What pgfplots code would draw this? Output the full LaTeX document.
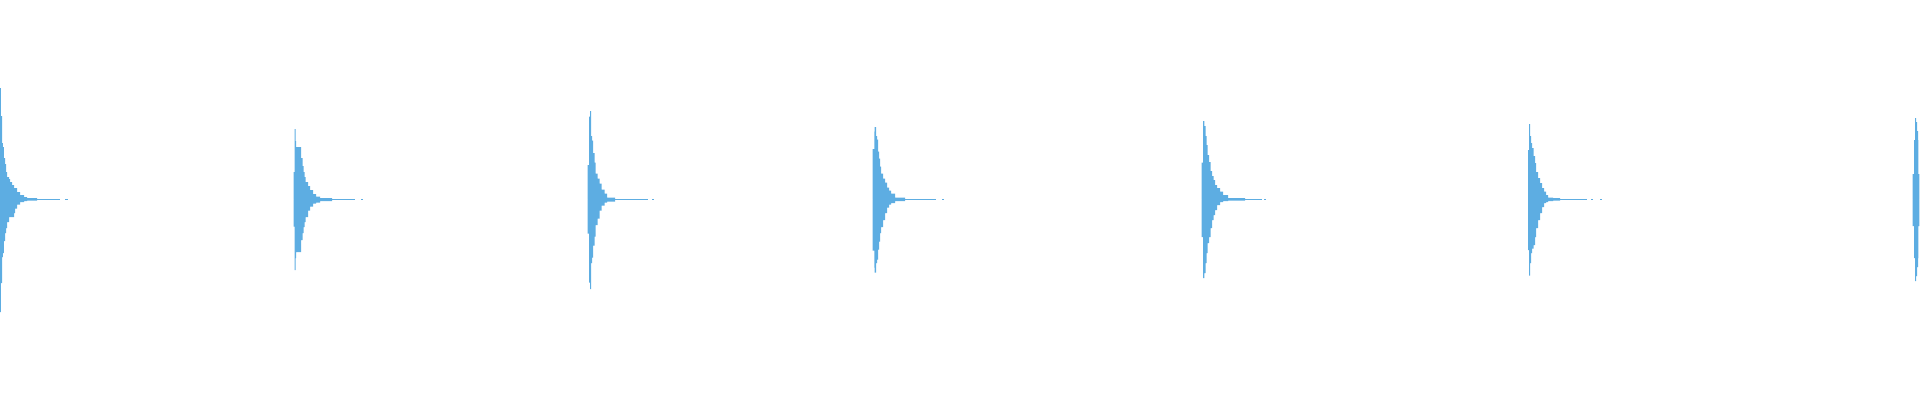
\documentclass[border=0pt]{standalone}
\usepackage{pgfplots}
\usepackage{pgfplotstable}
\pgfplotsset{compat=1.18}
\definecolor{wave}{RGB}{93,173,226}

% envelope of each burst: value holds from x to the next x
\pgfplotstableread{
x up lo
0 111.5 -112.5
1 83.5 -83.5
2 56.5 -57.5
3 52.5 -53.5
4 41.5 -41.5
5 35.5 -33.5
6 27.5 -28.5
7 22.5 -22.5
9 20.5 -17.5
10 17.5 -17.5
12 14.5 -17.5
14 11.5 -13.5
15 11.5 -9
17 7.5 -5
20 4.5 -2.5
24 2.5 -1.5
27 1.5 -1
37 0 0
}\burstA

\pgfplotstableread{
x up lo
293.7 27.5 -27
294.7 70.5 -70.5
295.7 58.5 -58.5
296 52.5 -52.5
301 41.5 -40.5
302.5 33.5 -33.5
303.5 27.5 -27.5
304.5 22.5 -22.5
305.5 17.5 -17.5
308 13.5 -11
310 9.5 -7
313 5.5 -4
316 3 -3
320 1.5 -1.5
332 0 0
}\burstB

\pgfplotstableread{
x up lo
587.7 34.5 -34
589 83 -83
590 88.5 -89.5
591 63.5 -63.5
592 59 -58
593 46.5 -46
594.5 37 -37
595.5 26 -25.5
597.5 21 -19
599.5 16 -11
601.5 10 -6
604.5 6 -3
607 2 -2
615 0 0
}\burstC

\pgfplotstableread{
x up lo
872.7 50.5 -51
874.3 68 -68
874.7 72.5 -73
876 63.5 -63.5
877 60 -60
878 48 -50
879 41 -42
880 33 -33.5
881 26 -27.5
883 21 -20.5
885 17 -13.5
887 12 -8
889 9 -5
891 6 -3.5
895 2 -1.5
905 0 0
}\burstD

\pgfplotstableread{
x up lo
1201.7 37 -37.5
1203 78.5 -78.5
1204.3 73.5 -73.5
1205.7 63.5 -63.5
1206.7 54.5 -53.5
1207.7 44.5 -43.5
1209 37.5 -37.5
1210.5 28.5 -28.5
1212 23.5 -20.5
1213.5 19.5 -15.5
1215 14.5 -10.5
1217 11.5 -5.5
1220 8 -2.5
1223 4.5 -1.5
1228 1.5 -1
1245 0 0
}\burstE

\pgfplotstableread{
x up lo
1528 49.5 -50.5
1529 75.5 -76
1530 63.5 -63.5
1531 56.5 -53.5
1532 51.5 -49
1533.5 43.5 -45.5
1535 36.5 -37.5
1536 27.5 -28.5
1538 21.5 -20.5
1540 16.5 -13.5
1542 11.5 -7.5
1544 8 -3.5
1546 4.5 -2.5
1548 2 -1.5
1553 1.5 -1
1560 0 0
}\burstF

\pgfplotstableread{
x up lo
1912.7 25.5 -26.5
1914 59.5 -58.5
1915 81.5 -81.5
1916 77.5 -76.5
1917 68.5 -67.5
1918 59.5 -58.5
1918.3 25.5 -26.5
1919.3 0 0
}\burstG

\begin{document}
\begin{tikzpicture}
\begin{axis}[
    width=19.2cm, height=4cm, scale only axis,
    hide axis,
    xmin=0, xmax=1920, ymin=-200.5, ymax=199.5,
    burst/.style={const plot, fill=wave, draw=none, mark=none},
]
\addplot[burst] table[x=x, y=up] {\burstA} \closedcycle;
\addplot[burst] table[x=x, y=lo] {\burstA} \closedcycle;
\addplot[burst] table[x=x, y=up] {\burstB} \closedcycle;
\addplot[burst] table[x=x, y=lo] {\burstB} \closedcycle;
\addplot[burst] table[x=x, y=up] {\burstC} \closedcycle;
\addplot[burst] table[x=x, y=lo] {\burstC} \closedcycle;
\addplot[burst] table[x=x, y=up] {\burstD} \closedcycle;
\addplot[burst] table[x=x, y=lo] {\burstD} \closedcycle;
\addplot[burst] table[x=x, y=up] {\burstE} \closedcycle;
\addplot[burst] table[x=x, y=lo] {\burstE} \closedcycle;
\addplot[burst] table[x=x, y=up] {\burstF} \closedcycle;
\addplot[burst] table[x=x, y=lo] {\burstF} \closedcycle;
\addplot[burst] table[x=x, y=up] {\burstG} \closedcycle;
\addplot[burst] table[x=x, y=lo] {\burstG} \closedcycle;

% centre line through each burst and its quiet tail
\addplot[sharp plot, draw=wave, mark=none, line width=0.4pt, unbounded coords=jump] coordinates {
    (0,0) (60,0) (61,nan) (65,0) (68,0) (69,nan)
    (294,0) (355,0) (356,nan) (361,0) (363,0) (364,nan)
    (588,0) (648,0) (649,nan) (652,0) (654,0) (655,nan)
    (873,0) (936,0) (937,nan) (942,0) (944,0) (945,nan)
    (1202,0) (1262,0) (1263,nan) (1264,0) (1265.5,0) (1266,nan)
    (1528.3,0) (1587,0) (1588,nan) (1591,0) (1593,0) (1594,nan) (1600,0) (1602,0) (1603,nan)
    (1913,0) (1919,0)
};
\end{axis}
\pgfresetboundingbox
\useasboundingbox (0,0) rectangle (19.2cm,4cm);
\end{tikzpicture}
\end{document}
